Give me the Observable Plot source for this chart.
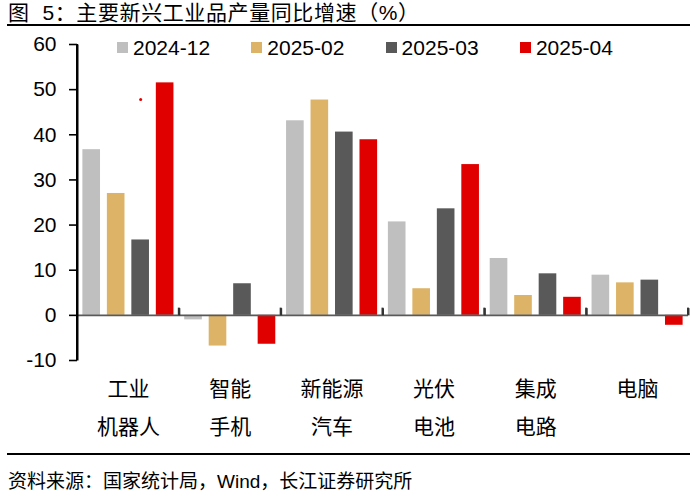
<!DOCTYPE html>
<html><head><meta charset="utf-8">
<script src="https://cdn.jsdelivr.net/npm/d3@7"></script>
<script src="https://cdn.jsdelivr.net/npm/@observablehq/plot@0.6"></script>
<style>
body{margin:0;background:#fff;font-family:"Liberation Sans","Noto Sans CJK SC",sans-serif;color:#000;}
#wrap{position:relative;width:700px;height:497px;overflow:hidden;background:#fff;}
#chart{position:absolute;left:0;top:0;}
#title{position:absolute;left:8px;top:0;font-size:21px;line-height:26px;white-space:pre;letter-spacing:0.6px;}
#titleLine{position:absolute;left:7px;top:24px;width:683px;height:0;border-top:2px solid #000;}
#footLine{position:absolute;left:7px;top:453px;width:683px;height:0;border-top:2px solid #000;}
#source{position:absolute;left:8px;top:469px;font-size:19px;line-height:26px;white-space:pre;}
#legend{position:absolute;left:0;top:35px;}
.item{position:absolute;top:0;height:25px;display:flex;align-items:center;font-size:21px;white-space:nowrap;}
.sw{width:11px;height:11px;margin-right:5px;}
</style>
</head><body>
<div id="wrap">
  <div id="chart"></div>
  <div id="title">图  5：主要新兴工业品产量同比增速（%）</div>
  <div id="titleLine"></div>
  <div id="legend"></div>
  <div id="footLine"></div>
  <div id="source">资料来源：国家统计局，Wind，长江证券研究所</div>
</div>
<script>
const categories = ["工业\n机器人", "智能\n手机", "新能源\n汽车", "光伏\n电池", "集成\n电路", "电脑"];
const series = ["2024-12", "2025-02", "2025-03", "2025-04"];
const v2024_12 = [36.7, -1.0, 43.1, 20.7, 12.6, 8.9];
const v2025_02 = [27.0, -6.8, 47.7, 5.9, 4.4, 7.2];
const v2025_03 = [16.7, 7.0, 40.6, 23.6, 9.2, 7.8];
const v2025_04 = [51.5, -6.4, 38.9, 33.4, 4.0, -2.2];
const colors = ["#BFBFBF", "#DDB467", "#595959", "#E00000"];
const yTicks = [-10, 0, 10, 20, 30, 40, 50, 60];
// small stray red mark visible in the original, above the 工业机器人 2025-03 bar
const strayDot = [{cat: 0, series: 2, value: 47.8}];

// band layout inside each category group (fractions of a group)
const paddingInner = 0.28, paddingOuter = 0.22;
const step = 1 / (series.length - paddingInner + 2 * paddingOuter);
const bandwidth = step * (1 - paddingInner);
const bandStart = (i, j) => i + paddingOuter * step + j * step;

const valuesBySeries = [v2024_12, v2025_02, v2025_03, v2025_04];
const table = [];
categories.forEach((c, i) => series.forEach((s, j) => table.push({
  cat: c, series: s, value: valuesBySeries[j][i],
  x1: bandStart(i, j), x2: bandStart(i, j) + bandwidth
})));
const dots = strayDot.map(d => ({x: bandStart(d.cat, d.series) + bandwidth / 2, y: d.value}));
const edgeTicks = categories.map((c, i) => ({x: i + 1, y1: 0, y2: 1.6}));
const axisLine = [{x: 0, y1: yTicks[0], y2: yTicks[yTicks.length - 1]}];
const labels = categories.map((c, i) => ({x: i + 0.5, text: c}));

const font = '"Liberation Sans","Noto Sans CJK SC",sans-serif';

const chart = Plot.plot({
  width: 700,
  height: 497,
  marginTop: 44,
  marginBottom: 137,
  marginLeft: 77,
  marginRight: 12,
  style: {fontFamily: font, color: "#000", background: "transparent"},
  x: {domain: [0, categories.length], axis: null, label: null},
  y: {domain: [yTicks[0], yTicks[yTicks.length - 1]], axis: null, label: null},
  color: {domain: series, range: colors},
  marks: [
    Plot.rectY(table, {x1: "x1", x2: "x2", y1: 0, y2: "value", fill: "series"}),
    Plot.ruleY([0], {stroke: "#595959", strokeWidth: 1.6}),
    Plot.dot(dots, {x: "x", y: "y", r: 1.5, fill: "#E00000"}),
    Plot.axisY({ticks: yTicks, tickSize: 8, tickPadding: 13, fontSize: 21, stroke: "#000", strokeWidth: 1.6, label: null, tickFormat: d => String(d)}),
    Plot.text(labels, {x: "x", text: "text", frameAnchor: "bottom", lineAnchor: "top", dy: 9, fontSize: 21, lineHeight: 1.81, fill: "#000"}),
    Plot.rect(edgeTicks, {x1: "x", x2: "x", y1: "y1", y2: "y2", insetLeft: -1, insetRight: -1, fill: "#333"}),
    Plot.rect(axisLine, {x1: "x", x2: "x", y1: "y1", y2: "y2", insetLeft: -1, insetRight: -1, fill: "#000"}),
    Plot.link(edgeTicks, {x1: "x", x2: "x", y1: "y1", y2: "y2", stroke: "#333", strokeWidth: 2}),
    Plot.link(axisLine, {x1: "x", x2: "x", y1: "y1", y2: "y2", stroke: "#000", strokeWidth: 2})
  ]
});
document.getElementById("chart").appendChild(chart);

const legend = document.getElementById("legend");
const legendStart = 117, legendStep = 134.3;
series.forEach((s, i) => {
  const it = document.createElement("div");
  it.className = "item";
  it.style.left = (legendStart + i * legendStep) + "px";
  const sw = document.createElement("span");
  sw.className = "sw";
  sw.style.background = colors[i];
  it.appendChild(sw);
  it.appendChild(document.createTextNode(s));
  legend.appendChild(it);
});
</script>
</body></html>
